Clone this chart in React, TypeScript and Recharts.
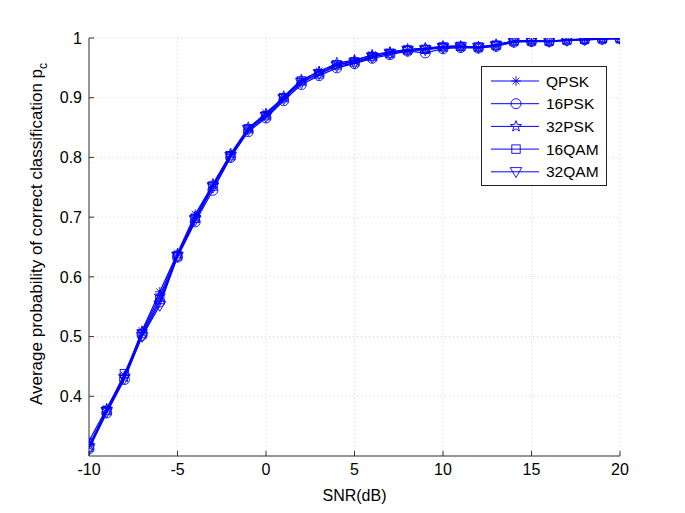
import React from 'react';
import { LineChart, Line, XAxis, YAxis, CartesianGrid, Legend } from 'recharts';

const snr = [-10, -9, -8, -7, -6, -5, -4, -3, -2, -1, 0, 1, 2, 3, 4, 5, 6, 7, 8, 9, 10, 11, 12, 13, 14, 15, 16, 17, 18, 19, 20];
const qpsk = [0.325, 0.38, 0.435, 0.51, 0.575, 0.64, 0.705, 0.755, 0.805, 0.848, 0.875, 0.9, 0.928, 0.945, 0.955, 0.962, 0.972, 0.977, 0.98, 0.982, 0.986, 0.987, 0.984, 0.989, 0.995, 0.995, 0.994, 0.997, 0.998, 0.999, 1.0];
const psk16 = [0.312, 0.372, 0.428, 0.502, 0.558, 0.633, 0.692, 0.745, 0.8, 0.843, 0.866, 0.895, 0.922, 0.937, 0.95, 0.957, 0.966, 0.972, 0.978, 0.975, 0.982, 0.984, 0.983, 0.986, 0.993, 0.994, 0.994, 0.996, 0.997, 0.998, 0.999];
const psk32 = [0.318, 0.378, 0.432, 0.508, 0.568, 0.638, 0.7, 0.755, 0.806, 0.85, 0.872, 0.902, 0.93, 0.943, 0.958, 0.963, 0.971, 0.976, 0.981, 0.983, 0.986, 0.986, 0.985, 0.989, 0.995, 0.996, 0.995, 0.997, 0.998, 0.999, 0.999];
const qam16 = [0.315, 0.376, 0.438, 0.505, 0.562, 0.635, 0.698, 0.752, 0.803, 0.848, 0.87, 0.9, 0.928, 0.94, 0.955, 0.96, 0.969, 0.974, 0.98, 0.981, 0.985, 0.986, 0.985, 0.988, 0.995, 0.995, 0.995, 0.997, 0.998, 0.999, 1.0];
const qam32 = [0.312, 0.374, 0.43, 0.5, 0.552, 0.634, 0.695, 0.75, 0.801, 0.846, 0.868, 0.898, 0.925, 0.94, 0.953, 0.958, 0.968, 0.974, 0.979, 0.98, 0.984, 0.985, 0.984, 0.987, 0.994, 0.995, 0.994, 0.996, 0.997, 0.998, 0.999];

const xTicks = [-10, -5, 0, 5, 10, 15, 20];
const yTicks = [0.4, 0.5, 0.6, 0.7, 0.8, 0.9, 1];

const data = snr.map((s, i) => ({
  snr: s,
  QPSK: qpsk[i],
  '16PSK': psk16[i],
  '32PSK': psk32[i],
  '16QAM': qam16[i],
  '32QAM': qam32[i],
}));

const BLUE = '#0000ff';
const FONT = '"Liberation Sans", Arial, sans-serif';

type Mk = 'star' | 'circle' | 'pentagram' | 'square' | 'triangle';

function marker(kind: Mk, cx: number, cy: number, key?: any) {
  const p = { stroke: BLUE, strokeWidth: 0.9, fill: 'none' };
  if (kind === 'star') {
    const r = 4.8, d = 3.4;
    return (
      <g key={key} {...p}>
        <line x1={cx - r} y1={cy} x2={cx + r} y2={cy} />
        <line x1={cx} y1={cy - r} x2={cx} y2={cy + r} />
        <line x1={cx - d} y1={cy - d} x2={cx + d} y2={cy + d} />
        <line x1={cx - d} y1={cy + d} x2={cx + d} y2={cy - d} />
      </g>
    );
  }
  if (kind === 'circle') return <circle key={key} cx={cx} cy={cy} r={5} {...p} />;
  if (kind === 'square') return <rect key={key} x={cx - 4.2} y={cy - 4.2} width={8.4} height={8.4} {...p} />;
  if (kind === 'triangle') {
    return <polygon key={key} points={`${cx - 5.8},${cy - 4.2} ${cx + 5.8},${cy - 4.2} ${cx},${cy + 5.8}`} {...p} />;
  }
  const pts: string[] = [];
  for (let k = 0; k < 10; k++) {
    const r = k % 2 === 0 ? 5.8 : 2.4;
    const a = -Math.PI / 2 + (k * Math.PI) / 5;
    pts.push(`${cx + r * Math.cos(a)},${cy + r * Math.sin(a)}`);
  }
  return <polygon key={key} points={pts.join(' ')} {...p} />;
}

const seriesList: { key: string; mk: Mk }[] = [
  { key: 'QPSK', mk: 'star' },
  { key: '16PSK', mk: 'circle' },
  { key: '32PSK', mk: 'pentagram' },
  { key: '16QAM', mk: 'square' },
  { key: '32QAM', mk: 'triangle' },
];

const LegendBox = () => (
  <svg width={126} height={120} style={{ display: 'block' }}>
    <rect x={0.5} y={0.5} width={125} height={119} fill="#fff" stroke="#222" strokeWidth={1} />
    {seriesList.map((s, i) => {
      const y = 15 + i * 22.7;
      return (
        <g key={s.key}>
          <line x1={10} y1={y} x2={58} y2={y} stroke={BLUE} strokeWidth={1} />
          {marker(s.mk, 35, y)}
          <text x={65} y={y + 5.5} fontSize={15.5} fontFamily={FONT} fill="#000">
            {s.key}
          </text>
        </g>
      );
    })}
  </svg>
);

const YLabel = () => (
  <text
    x={0}
    y={0}
    transform="translate(42,234) rotate(-90)"
    textAnchor="middle"
    fontSize={17}
    fontFamily={FONT}
    fill="#000"
  >
    Average probability of correct classification p
    <tspan fontSize={12} dy={5}>c</tspan>
  </text>
);

const emptyTick = () => <g />;

export default function App() {
  return (
    <div style={{ position: 'absolute', left: 0, top: 0, background: '#fff' }}>
      <LineChart width={685} height={513} data={data} margin={{ top: 38, right: 65, left: 0, bottom: 0 }}>
        <CartesianGrid stroke="#c8c8c8" strokeDasharray="1 3" strokeWidth={0.8} />
        <XAxis
          type="number"
          dataKey="snr"
          domain={[-10, 20]}
          ticks={xTicks}
          height={57}
          allowDataOverflow
          stroke="#333"
          tickSize={-5}
          tickMargin={13}
          tick={{ fontSize: 16, fontFamily: FONT, fill: '#000' }}
          label={{ value: 'SNR(dB)', position: 'insideBottom', offset: 12, fontSize: 16, fontFamily: FONT, fill: '#000' }}
        />
        <XAxis
          xAxisId="top"
          orientation="top"
          type="number"
          dataKey="snr"
          domain={[-10, 20]}
          ticks={xTicks}
          height={0}
          stroke="#333"
          tickSize={-5}
          tick={emptyTick}
        />
        <YAxis
          type="number"
          domain={[0.3, 1]}
          ticks={yTicks}
          width={89}
          allowDataOverflow
          stroke="#333"
          tickSize={-5}
          tickMargin={12}
          tickFormatter={(v: number) => (v === 1 ? '1' : v.toFixed(1))}
          tick={{ fontSize: 16, fontFamily: FONT, fill: '#000' }}
          label={<YLabel />}
        />
        <YAxis
          yAxisId="right"
          orientation="right"
          type="number"
          domain={[0.3, 1]}
          ticks={yTicks}
          width={0}
          stroke="#333"
          tickSize={-5}
          tick={emptyTick}
        />
        <Legend
          layout="horizontal"
          verticalAlign="middle"
          align="center"
          wrapperStyle={{ left: 481, top: 66, width: 126, height: 120 }}
          content={<LegendBox />}
        />
        {seriesList.map((s) => (
          <Line
            key={s.key}
            type="linear"
            dataKey={s.key}
            stroke={BLUE}
            strokeWidth={1.2}
            isAnimationActive={false}
            dot={(props: any) => marker(s.mk, props.cx, props.cy, props.index)}
            activeDot={false}
          />
        ))}
      </LineChart>
    </div>
  );
}
